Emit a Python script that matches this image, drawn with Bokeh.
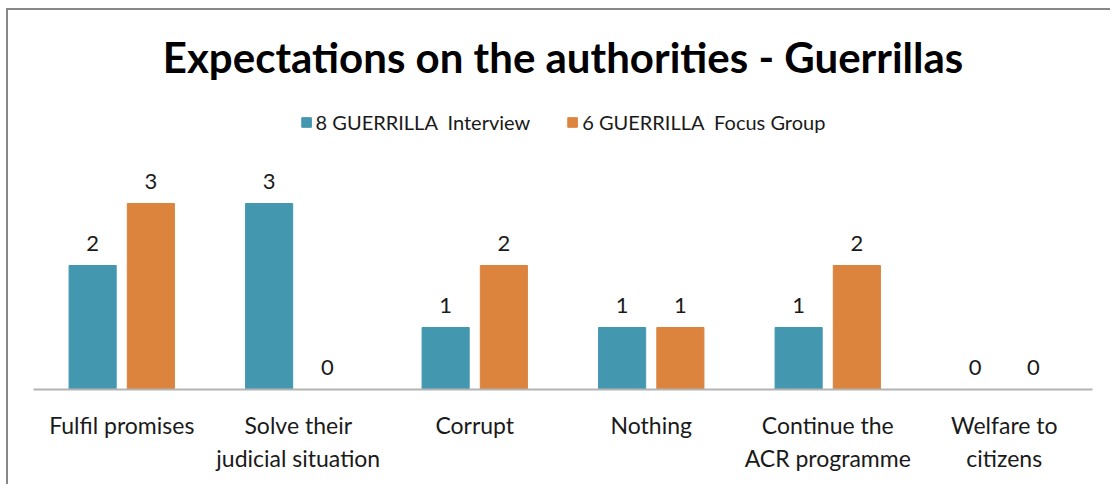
from bokeh.plotting import figure
from bokeh.models import ColumnDataSource, Legend, LegendItem, Range1d, FactorRange, Label
from bokeh.transform import dodge
from bokeh.core.properties import value
from bokeh.embed import file_html
from bokeh.resources import INLINE

categories = ["Fulfil promises", "Solve their\njudicial situation", "Corrupt", "Nothing",
              "Continue the\nACR programme", "Welfare to\ncitizens"]
interview = [2, 3, 1, 1, 1, 0]
focus_group = [3, 0, 2, 1, 2, 0]
series_names = ["8 GUERRILLA  Interview", "6 GUERRILLA  Focus Group"]
title_text = "Expectations on the authorities - Guerrillas"

TEAL = "#4398B0"
ORANGE = "#DC843E"
BORDER = "#878787"

src = ColumnDataSource(dict(
    cat=categories,
    s1=interview,
    s2=focus_group,
    s1_lbl=[str(v) for v in interview],
    s2_lbl=[str(v) for v in focus_group],
))

W, H = 1110, 484
PX = 62.0        # pixels per unit
FRAME_H = 389    # frame top at canvas top, baseline at y=389
p = figure(x_range=FactorRange(*categories, range_padding=0), y_range=Range1d(0, FRAME_H / PX),
           width=W, height=H, output_backend="svg", toolbar_location=None,
           min_border_left=33, min_border_right=18, min_border_bottom=H - FRAME_H,
           min_border_top=0)
p.background_fill_color = None
p.border_fill_color = None
p.styles = {"background": (f"linear-gradient({BORDER},{BORDER}) 6px 8px / 2px 100% no-repeat, "
                           f"linear-gradient({BORDER},{BORDER}) 6px 8px / 100% 2px no-repeat, #ffffff")}

p.outline_line_color = None
p.grid.grid_line_color = None
p.yaxis.visible = False

p.xaxis.axis_line_color = "#b3b3b3"
p.xaxis.axis_line_width = 2
p.xaxis.major_tick_line_color = None
p.xaxis.minor_tick_line_color = None
p.xaxis.major_label_text_font = "Lato"
p.xaxis.major_label_text_font_size = "23px"
p.xaxis.major_label_text_color = "#1a1a1a"
p.xaxis.major_label_standoff = 15

BW = 0.267
OFF = 0.165
r1 = p.vbar(x=dodge("cat", -OFF, range=p.x_range), top="s1", width=BW, source=src,
            fill_color=TEAL, line_color=TEAL)
r2 = p.vbar(x=dodge("cat", OFF, range=p.x_range), top="s2", width=BW, source=src,
            fill_color=ORANGE, line_color=ORANGE)

for col, lbl, off in (("s1", "s1_lbl", -OFF), ("s2", "s2_lbl", OFF)):
    p.text(x=dodge("cat", off, range=p.x_range), y=col, text=lbl, source=src,
           text_align="center", text_baseline="bottom", y_offset=-15,
           text_font=value("Lato"), text_font_size="22px", text_color="#1a1a1a")

title = Label(x=len(categories) / 2, y=(FRAME_H - 56) / PX, text=title_text,
              text_align="center", text_baseline="middle", text_font="Lato",
              text_font_style="bold", text_font_size="42px", text_color="#000000")
p.add_layout(title)

legend = Legend(items=[LegendItem(label=series_names[0], renderers=[r1]),
                       LegendItem(label=series_names[1], renderers=[r2])],
                location="top_center", orientation="horizontal",
                label_text_font="Lato", label_text_font_size="20px",
                label_text_color="#1a1a1a", glyph_width=12, glyph_height=12,
                label_standoff=4, spacing=36, border_line_color=None,
                background_fill_alpha=0, padding=0, margin=110)
p.add_layout(legend, "center")

open("out.html", "w").write(file_html(p, INLINE))
